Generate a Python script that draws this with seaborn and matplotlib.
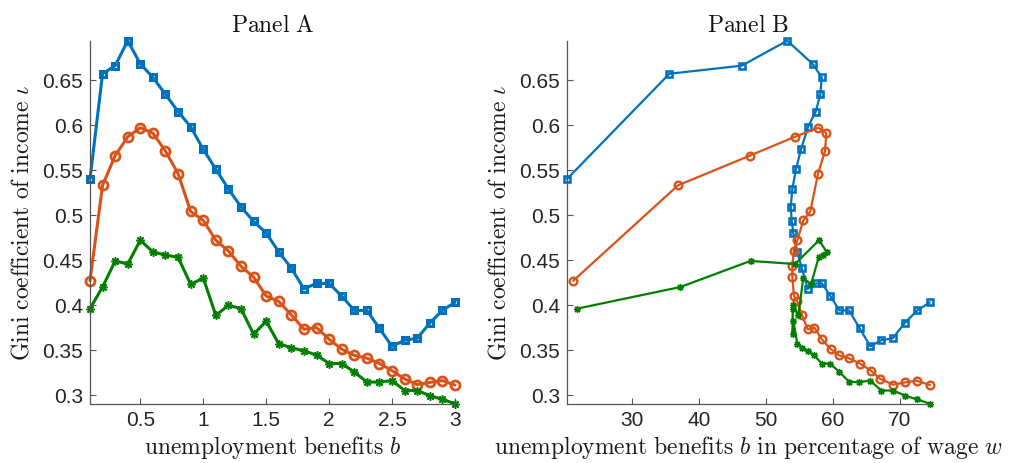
import matplotlib
matplotlib.use("Agg")
import matplotlib.pyplot as plt
import seaborn as sns
import numpy as np
import pandas as pd

# ---------------- data ----------------
b_levels = [0.1, 0.2, 0.3, 0.4, 0.5, 0.6, 0.7, 0.8, 0.9, 1.0,
            1.1, 1.2, 1.3, 1.4, 1.5, 1.6, 1.7, 1.8, 1.9, 2.0,
            2.1, 2.2, 2.3, 2.4, 2.5, 2.6, 2.7, 2.8, 2.9, 3.0]

gini_blue = [0.540, 0.657, 0.666, 0.6937, 0.668, 0.653, 0.634, 0.615, 0.598, 0.573,
             0.551, 0.529, 0.509, 0.493, 0.480, 0.459, 0.441, 0.418, 0.424, 0.424,
             0.410, 0.394, 0.394, 0.374, 0.354, 0.361, 0.363, 0.380, 0.394, 0.403]
gini_orange = [0.427, 0.533, 0.566, 0.587, 0.597, 0.591, 0.571, 0.546, 0.504, 0.494,
               0.472, 0.460, 0.443, 0.431, 0.410, 0.404, 0.389, 0.373, 0.375, 0.362,
               0.351, 0.344, 0.341, 0.335, 0.327, 0.318, 0.3115, 0.314, 0.316, 0.311]
gini_green = [0.396, 0.420, 0.449, 0.4456, 0.472, 0.459, 0.4556, 0.453, 0.423, 0.430,
              0.3885, 0.3997, 0.396, 0.3675, 0.382, 0.357, 0.3526, 0.349, 0.3444, 0.335,
              0.335, 0.3256, 0.3144, 0.3144, 0.316, 0.305, 0.305, 0.2993, 0.2952, 0.2903]

pct_blue = [20.23, 35.55, 46.38, 53.2, 57.0, 58.36, 58.15, 57.46, 56.31, 55.26,
            54.51, 53.96, 53.72, 53.87, 54.11, 54.71, 55.37, 56.26, 57.5, 58.4,
            59.65, 61.0, 62.45, 64.05, 65.64, 67.28, 68.99, 70.78, 72.67, 74.53]
pct_orange = [21.17, 36.85, 47.6, 54.36, 57.85, 59.05, 58.85, 57.8, 56.65, 55.6,
              54.71, 54.17, 53.96, 53.96, 54.21, 54.71, 55.41, 56.26, 57.25, 58.36,
              59.7, 61.0, 62.4, 64.05, 65.74, 67.09, 69.08, 70.84, 72.58, 74.57]
pct_green = [21.77, 37.19, 47.7, 54.36, 57.96, 59.1, 58.6, 57.9, 56.76, 55.6,
             54.86, 54.11, 54.02, 54.0, 54.11, 54.71, 55.41, 56.26, 57.2, 58.36,
             59.6, 61.0, 62.5, 64.0, 65.6, 67.3, 69.08, 70.84, 72.58, 74.57]

xticks_a = [0.5, 1, 1.5, 2, 2.5, 3]
xticks_b = [30, 40, 50, 60, 70]
yticks = [0.3, 0.35, 0.4, 0.45, 0.5, 0.55, 0.6, 0.65]

# ---------------- style ----------------
sns.set_theme(style="white")
plt.rcParams['font.family'] = ['Liberation Sans', 'DejaVu Sans']
plt.rcParams['mathtext.fontset'] = 'cm'

c_blue = '#0072BD'
c_orange = '#D95319'
c_green = '#008000'

def mk_style(kind, scale):
    if kind == 's':
        return dict(marker='s', markersize=4.5 * scale, markerfacecolor='none', markeredgewidth=2.2 * scale)
    if kind == 'o':
        return dict(marker='o', markersize=6.5 * scale, markerfacecolor='none', markeredgewidth=2.0 * scale)
    return dict(marker=(8, 2, 0), markersize=6 * scale, markeredgewidth=1.1 * scale)

series = [
    (gini_blue, pct_blue, c_blue, 's'),
    (gini_orange, pct_orange, c_orange, 'o'),
    (gini_green, pct_green, c_green, '*'),
]

fig = plt.figure(figsize=(10.19, 4.63), dpi=100)
axA = fig.add_axes([0.0883, 0.128, 0.3582, 0.784])
axB = fig.add_axes([0.5564, 0.128, 0.3563, 0.784])

for g, p, c, kind in series:
    dfa = pd.DataFrame({'x': b_levels, 'y': g})
    sns.lineplot(data=dfa, x='x', y='y', ax=axA, color=c, linewidth=2.2,
                 sort=False, estimator=None, markeredgecolor=c, clip_on=False,
                 **mk_style(kind, 1.0))
    dfb = pd.DataFrame({'x': p, 'y': g})
    sns.lineplot(data=dfb, x='x', y='y', ax=axB, color=c, linewidth=1.6,
                 sort=False, estimator=None, markeredgecolor=c, clip_on=False,
                 **mk_style(kind, 0.85))

ylo, yhi = 0.2903, 0.6937
axA.set_xlim(0.1, 3.0)
axB.set_xlim(20.23, 74.57)
for ax, xt in ((axA, xticks_a), (axB, xticks_b)):
    ax.set_ylim(ylo, yhi)
    ax.set_xticks(xt)
    ax.set_xticklabels([('%g' % v) for v in xt])
    ax.set_yticks(yticks)
    ax.set_yticklabels([('%g' % v) for v in yticks])
    for s in ('top', 'right'):
        ax.spines[s].set_visible(False)
    for s in ('left', 'bottom'):
        ax.spines[s].set_color('#555555')
        ax.spines[s].set_linewidth(0.9)
    ax.tick_params(axis='both', direction='in', length=4, width=0.8,
                   colors='#555555', labelcolor='#262626', labelsize=15, pad=5,
                   left=True, bottom=True)
    ax.set_ylabel(r'$\mathrm{Gini\ coefficient\ of\ income}\ \iota$', fontsize=17, color='#1a1a1a', labelpad=6)
    ax.grid(False)

axA.set_xlabel(r'$\mathrm{unemployment\ benefits}\ b$', fontsize=17, color='#1a1a1a', labelpad=3)
axB.set_xlabel(r'$\mathrm{unemployment\ benefits}\ b\ \mathrm{in\ percentage\ of\ wage}\ w$', fontsize=17, color='#1a1a1a', labelpad=3)
axA.set_title(r'$\mathrm{Panel\ A}$', fontsize=17, color='#111111', pad=6)
axB.set_title(r'$\mathrm{Panel\ B}$', fontsize=17, color='#111111', pad=6)

fig.savefig('out.png', dpi=100)
